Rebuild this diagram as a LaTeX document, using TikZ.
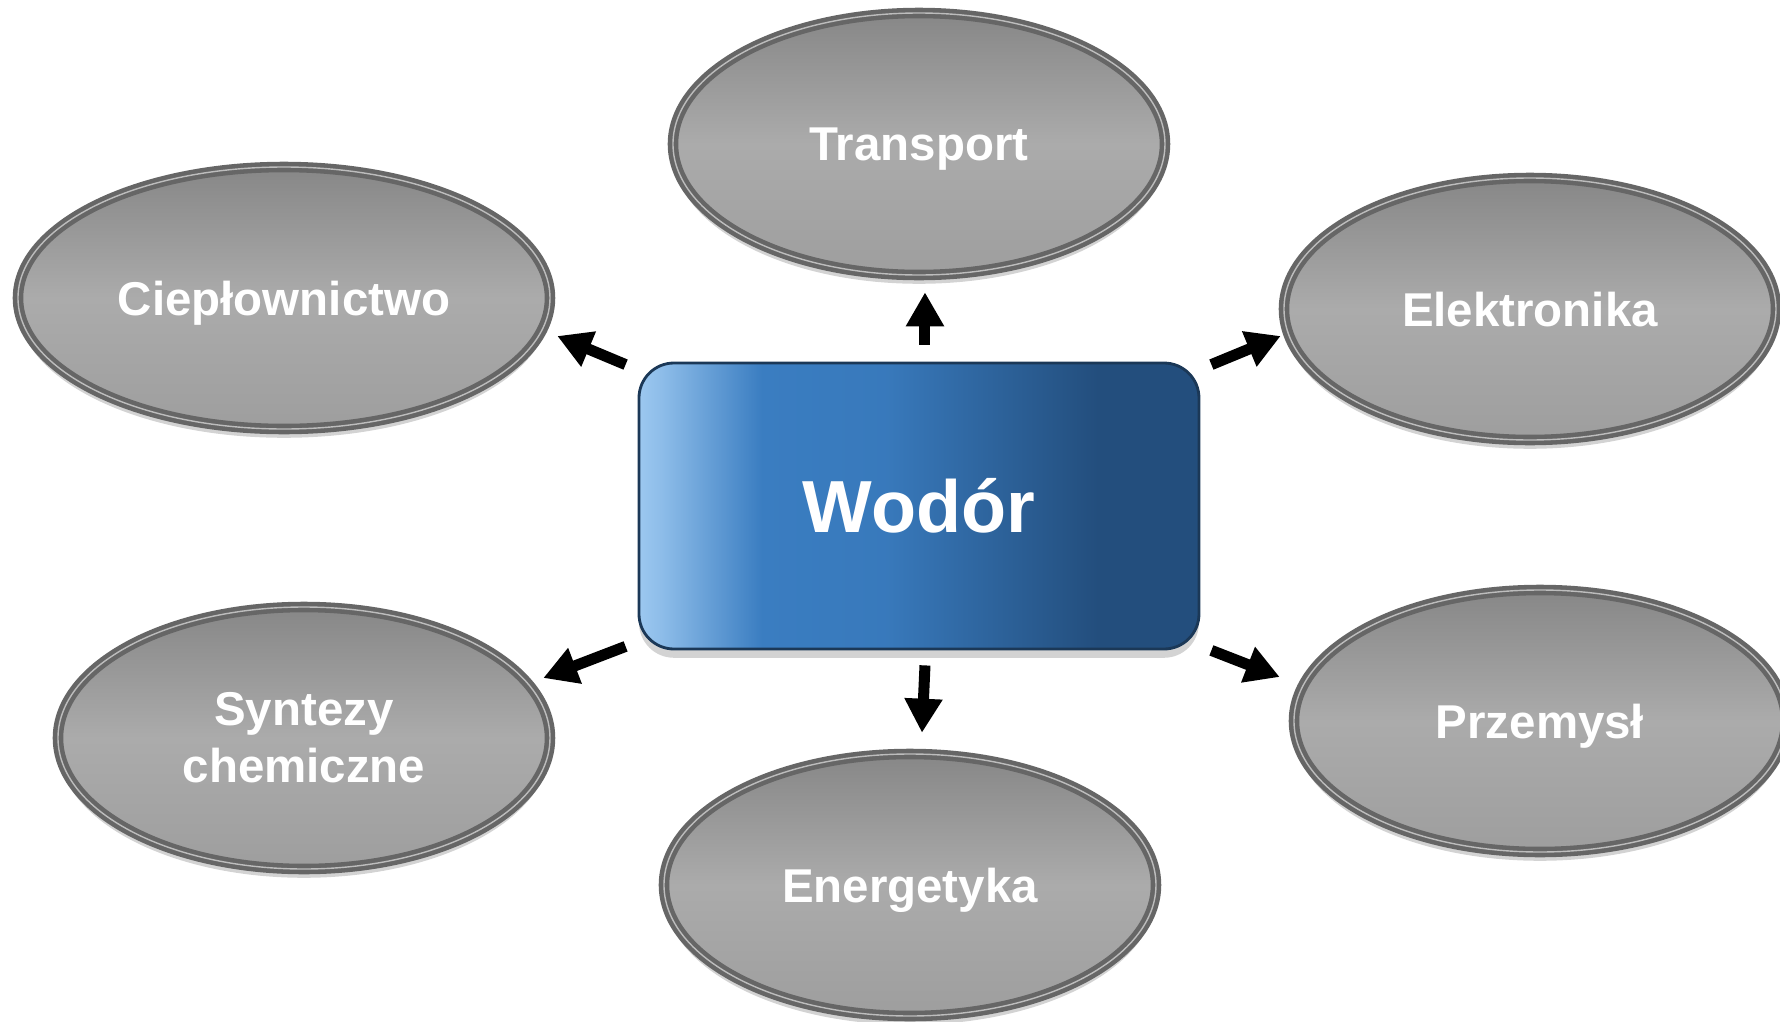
\documentclass[tikz,border=0pt]{standalone}
\usepackage{fontspec}
\setmainfont{Liberation Sans}
\usetikzlibrary{arrows.meta,shapes.geometric,shadows,positioning}
\definecolor{rim}{HTML}{666666}
\definecolor{rimhi}{HTML}{BDBDBD}
\definecolor{greytop}{HTML}{878787}
\definecolor{greymid}{HTML}{ABABAB}
\definecolor{greybot}{HTML}{9E9E9E}
\definecolor{boxlight}{HTML}{9CC8F0}
\definecolor{boxmid}{HTML}{3A7DC1}
\definecolor{boxdark}{HTML}{234E7D}
\definecolor{boxedge}{HTML}{1B3857}
\pgfdeclarehorizontalshading{wodorshade}{100bp}{color(0bp)=(boxlight); color(25bp)=(boxlight); color(27bp)=(boxlight!85!boxmid); color(36bp)=(boxmid); color(47bp)=(boxmid!92!boxdark); color(66bp)=(boxdark); color(100bp)=(boxdark)}
\tikzset{%
  sector/.style={ellipse,minimum width=4.92cm,minimum height=2.62cm,inner sep=0pt,draw=rim,line width=1.3pt,double=rimhi,double distance=0.4pt,top color=greytop,bottom color=greybot,middle color=greymid,text=white,align=center,font=\fontsize{13.5}{16.2}\selectfont\bfseries,drop shadow={shadow xshift=0pt,shadow yshift=-2.5pt,opacity=0.35}},
  oneline/.style={text depth=0pt},
  hub/.style={rectangle,rounded corners=0.35cm,minimum width=5.6cm,minimum height=2.86cm,draw=boxedge,line width=0.8pt,shade,shading=wodorshade,text=white,font=\fontsize{21}{25}\selectfont\bfseries,drop shadow={shadow xshift=0pt,shadow yshift=-2.5pt,opacity=0.35}},
  outarrow/.style={-{Triangle[length=0.34cm,width=0.36cm]},line width=0.11cm,black}%
}

\begin{document}
\begin{tikzpicture}
    \useasboundingbox (-9.19,-5.15) rectangle (8.61,5.06);
    \node (wodor) [hub] at (0,0) {Wodór};

    \node (transport) [sector,oneline] at (0,3.62) {Transport};
    \node (elektronika) [sector,oneline] at (6.11,1.97) {Elektronika};
    \node (cieplownictwo) [sector,oneline,minimum width=5.32cm] at (-6.35,2.08) {Ciepłownictwo};
    \node (syntezy) [sector] at (-6.15,-2.32) {Syntezy\\chemiczne};
    \node (energetyka) [sector,oneline] at (-0.09,-3.79) {Energetyka};
    \node (przemysl) [sector,oneline] at (6.21,-2.15) {Przemysł};

    \draw[outarrow] ([shift={(-0.12,-0.03)}]wodor.north west) -- ([shift={(0.05,-0.38)}]cieplownictwo.east);
    \draw[outarrow] ([shift={(0.06,0.17)}]wodor.north) -- ([shift={(0.06,-0.15)}]transport.south);
    \draw[outarrow] ([shift={(0.11,-0.03)}]wodor.north east) -- ([shift={(-0.01,-0.27)}]elektronika.west);
    \draw[outarrow] ([shift={(-0.12,0.04)}]wodor.south west) -- ([shift={(-0.09,0.60)}]syntezy.east);
    \draw[outarrow] ([shift={(0.06,-0.15)}]wodor.south) -- ([shift={(0.12,0.19)}]energetyka.north);
    \draw[outarrow] ([shift={(0.11,0)}]wodor.south east) -- ([shift={(-0.12,0.44)}]przemysl.west);
\end{tikzpicture}
\end{document}
